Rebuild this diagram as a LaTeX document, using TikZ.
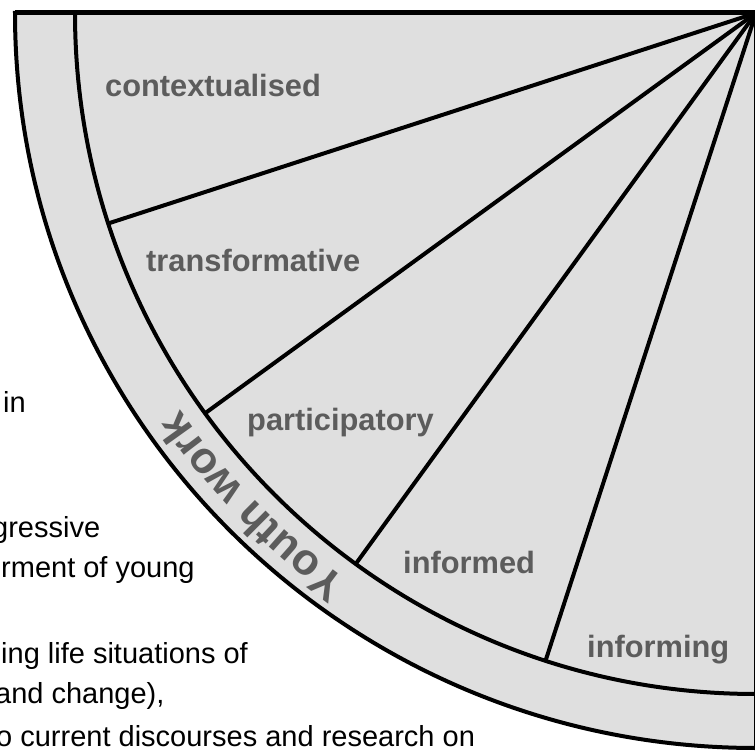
\documentclass[tikz,border=0pt]{standalone}
\usepackage{fontspec}
\setmainfont{Liberation Sans}
\usetikzlibrary{calc}
\definecolor{discfill}{HTML}{DFDFDF}
\definecolor{labelgray}{HTML}{5C5C5C}
\begin{document}
\begin{tikzpicture}[x=1pt,y=1pt,
  bodytext/.style={anchor=base west, inner sep=0pt, font=\fontsize{29}{34}\selectfont, text=black},
  sectorlabel/.style={anchor=base west, inner sep=0pt, font=\fontsize{30.8}{36}\selectfont\bfseries, text=labelgray},
  rimletter/.style={anchor=base, inner sep=0pt, font=\fontsize{44}{50}\selectfont\bfseries, text=labelgray},
  rule/.style={line width=4pt, draw=black},
]
\useasboundingbox (0,-751) rectangle (755,0);
\coordinate (C) at (756,-13);

% running text that the quarter disc partly covers
\node[bodytext] (t1) at (3,-412) {in};
\node[bodytext] (t2) at (-8,-537) {gressive};
\node[bodytext] (t3) at (1,-577) {rment of young};
\node[bodytext] (t4) at (1,-663) {ing life situations of};
\node[bodytext] (t5) at (-5,-703) {and change),};
\node[bodytext] (t6) at (-4,-746) {o current discourses and research on};

% quarter disc with its rim
\fill[discfill] (C) -- ++(-741,0) arc[start angle=180, end angle=270, x radius=741, y radius=735] -- cycle;
\draw[rule, line join=miter] (C) -- ++(-741,0) arc[start angle=180, end angle=270, x radius=741, y radius=735] -- cycle;
\draw[rule, line width=5pt] (C) -- ++(-741,0);
\draw[rule] ($(C)+(180:681)$) arc[start angle=180, end angle=270, radius=681];

% spokes dividing the five sectors
\foreach \a [count=\i] in {198,216,234,252} {
  \coordinate (s\i) at ($(C)+(\a:681)$);
  \draw[rule] (C) -- (s\i);
}

% sector labels
\node[sectorlabel] (l1) at (105,-97) {contextualised};
\node[sectorlabel] (l2) at (146,-272) {transformative};
\node[sectorlabel] (l3) at (247,-430) {participatory};
\node[sectorlabel] (l4) at (403,-573) {informed};
\node[sectorlabel] (l5) at (587,-657) {informing};

% rim lettering, tops facing outward
\foreach \ch/\ang [count=\i, evaluate=\ang as \rot using \ang-90] in
  {Y/233.0, o/230.7, u/228.49, t/226.79, h/225.09, w/221.58, o/219.08, r/217.27, k/215.57} {
  \node[rimletter, rotate=\rot] (yw\i) at ($(C)+(\ang:699)$) {\ch};
}
\end{tikzpicture}
\end{document}
